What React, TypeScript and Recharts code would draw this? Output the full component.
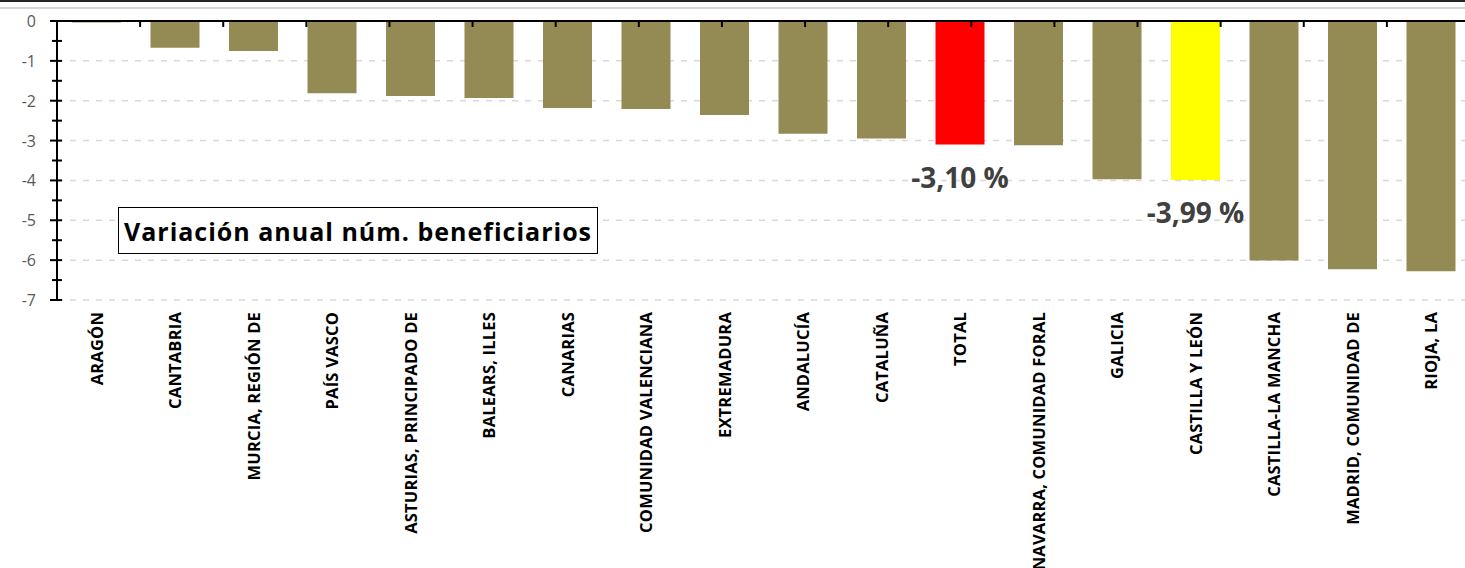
import React from 'react';
import { BarChart, Bar, XAxis, YAxis, CartesianGrid, ReferenceLine, Cell, LabelList } from 'recharts';

const categories = [
  'ARAGÓN', 'CANTABRIA', 'MURCIA, REGIÓN DE', 'PAÍS VASCO', 'ASTURIAS, PRINCIPADO DE',
  'BALEARS, ILLES', 'CANARIAS', 'COMUNIDAD VALENCIANA', 'EXTREMADURA', 'ANDALUCÍA',
  'CATALUÑA', 'TOTAL', 'NAVARRA, COMUNIDAD FORAL', 'GALICIA', 'CASTILLA Y LEÓN',
  'CASTILLA-LA MANCHA', 'MADRID, COMUNIDAD DE', 'RIOJA, LA',
];
const variation = [
  -0.04, -0.67, -0.75, -1.81, -1.88, -1.93, -2.18, -2.21, -2.36, -2.83,
  -2.95, -3.10, -3.12, -3.97, -3.99, -6.01, -6.23, -6.28,
];
const yTicks = [0, -0.5, -1, -1.5, -2, -2.5, -3, -3.5, -4, -4.5, -5, -5.5, -6, -6.5, -7];
const gridValues = [-1, -2, -3, -4, -5, -6, -7];
const categoryBoundaries = [0, 1, 2, 3, 4, 5, 6, 7, 8, 9, 10, 11, 12, 13, 14, 15, 16, 17, 18];
const labelledCategories = ['TOTAL', 'CASTILLA Y LEÓN'];
const titleText = 'Variación anual núm. beneficiarios';

const BASE = '#948A54';
const HIGHLIGHT: Record<string, string> = { TOTAL: '#FF0000', 'CASTILLA Y LEÓN': '#FFFF00' };
const FONT = "'Open Sans', 'Noto Sans', sans-serif";

const fmt = (v: number) => v.toFixed(2).replace('.', ',') + ' %';

const data = categories.map((name, i) => ({
  name,
  value: variation[i],
  label: labelledCategories.includes(name) ? fmt(variation[i]) : undefined,
}));

const YTick = (props: any) => {
  const { x, y, payload } = props;
  const v = payload.value as number;
  const major = Number.isInteger(v);
  const axisX = x + 21;
  return (
    <g>
      <line x1={axisX - (major ? 7 : 5)} x2={axisX + 5} y1={y} y2={y} stroke="#000" strokeWidth={2} />
      {major && (
        <text x={x} y={y} textAnchor="end" dominantBaseline="central" fill="#595959" fontSize={16} fontFamily={FONT}>
          {String(v)}
        </text>
      )}
    </g>
  );
};

const XTick = (props: any) => {
  const { x, y, payload } = props;
  return (
    <text
      x={x}
      y={y}
      transform={`rotate(-90, ${x}, ${y})`}
      textAnchor="end"
      dominantBaseline="central"
      fill="#000"
      fontSize={16.5}
      letterSpacing={0.2}
      fontWeight={700}
      fontFamily={FONT}
    >
      {payload.value}
    </text>
  );
};

const ValueLabel = (props: any) => {
  const { x, y, width, height, value } = props;
  if (value == null || value === '') return null;
  const bottom = Math.max(y, y + height);
  return (
    <text
      x={x + width / 2}
      y={bottom + 32}
      textAnchor="middle"
      dominantBaseline="central"
      fill="#404040"
      fontSize={28}
      fontWeight={700}
      fontFamily={FONT}
    >
      {value}
    </text>
  );
};

export default function App() {
  return (
    <div style={{ position: 'fixed', left: 0, top: 0, width: 1465, height: 568, overflow: 'hidden', background: '#fff' }}>
      <div style={{ position: 'absolute', left: 0, top: 0, width: 1465, height: 2, background: '#262626' }} />
      <div style={{ position: 'absolute', left: 0, top: 7, width: 1465, height: 2, background: '#D6D6D6' }} />
      <BarChart
        width={1475}
        height={568}
        data={data}
        margin={{ top: 21, right: 5, bottom: 0, left: 0 }}
        barSize={49}
      >
        <CartesianGrid
          xAxisId="cat"
          yAxisId="y"
          vertical={false}
          horizontalValues={gridValues}
          stroke="#D9D9D9"
          strokeWidth={1.5}
          strokeDasharray="6 7"
        />
        <XAxis
          xAxisId="cat"
          dataKey="name"
          type="category"
          interval={0}
          axisLine={false}
          tickLine={false}
          tickSize={0}
          tickMargin={12}
          height={268}
          tick={<XTick />}
        />
        <XAxis xAxisId="n" type="number" domain={[0, 18]} allowDataOverflow hide />
        <YAxis
          yAxisId="y"
          domain={[-7, 0]}
          ticks={yTicks}
          interval={0}
          width={57}
          axisLine={{ stroke: '#000', strokeWidth: 2 }}
          tickLine={false}
          tickSize={0}
          tickMargin={21}
          tick={<YTick />}
        />
        <Bar xAxisId="cat" yAxisId="y" dataKey="value" isAnimationActive={false}>
          {data.map((d) => (
            <Cell key={d.name} fill={HIGHLIGHT[d.name] ?? BASE} />
          ))}
          <LabelList dataKey="label" content={<ValueLabel />} />
        </Bar>
        <ReferenceLine xAxisId="cat" yAxisId="y" y={0} stroke="#000" strokeWidth={2} />
        {categoryBoundaries.map((b) => (
          <ReferenceLine
            key={b}
            xAxisId="n"
            yAxisId="y"
            segment={[{ x: b, y: 0 }, { x: b, y: -0.15 }]}
            stroke="#000"
            strokeWidth={2}
            ifOverflow="visible"
          />
        ))}
      </BarChart>
      <div
        style={{
          position: 'absolute',
          left: 118,
          top: 207,
          width: 480,
          height: 47,
          boxSizing: 'border-box',
          border: '1.5px solid #000',
          background: '#fff',
          display: 'flex',
          alignItems: 'center',
          justifyContent: 'center',
          fontFamily: FONT,
          fontWeight: 700,
          fontSize: 25,
          letterSpacing: 1,
          color: '#000',
          whiteSpace: 'nowrap',
        }}
      >
        {titleText}
      </div>
    </div>
  );
}
